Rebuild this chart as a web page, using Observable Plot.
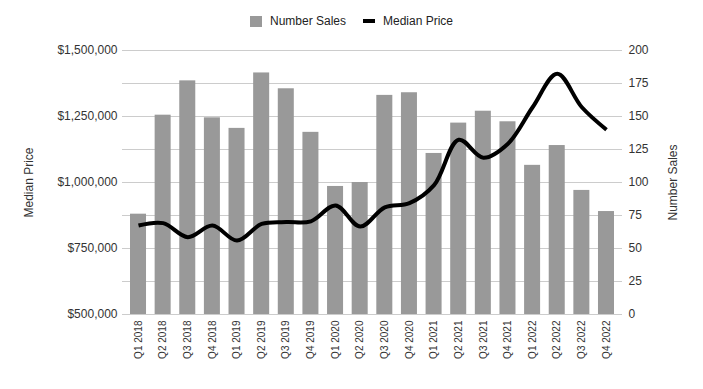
<!DOCTYPE html>
<html>
<head>
<meta charset="utf-8">
<script src="https://cdn.jsdelivr.net/npm/d3@7"></script>
<script src="https://cdn.jsdelivr.net/npm/@observablehq/plot@0.6"></script>
<style>
  body { margin: 0; background: #fff; font-family: "Liberation Sans", Arial, sans-serif; }
  #legend { height: 36px; display: flex; justify-content: center; align-items: center; padding-top: 6px; box-sizing: border-box; font-size: 12px; color: #222; }
  .item { display: flex; align-items: center; }
  .sw-bar { width: 12px; height: 11px; background: #999999; margin-right: 8px; }
  .sw-line { width: 12px; height: 4px; background: #000; margin-right: 8px; }
  .gap { width: 17px; }
</style>
</head>
<body>
<div id="legend">
  <div class="item"><span class="sw-bar"></span><span>Number Sales</span></div>
  <div class="gap"></div>
  <div class="item"><span class="sw-line"></span><span>Median Price</span></div>
</div>
<div id="chart"></div>
<script>
const quarters = ["Q1 2018","Q2 2018","Q3 2018","Q4 2018","Q1 2019","Q2 2019","Q3 2019","Q4 2019","Q1 2020","Q2 2020","Q3 2020","Q4 2020","Q1 2021","Q2 2021","Q3 2021","Q4 2021","Q1 2022","Q2 2022","Q3 2022","Q4 2022"];
const numberSales = [76,151,177,149,141,183,171,138,97,100,166,168,122,145,154,146,113,128,94,78];
const medianPrice = [837000,846000,793000,837000,780000,843000,850000,853000,913000,833000,906000,922000,990000,1162000,1094000,1147000,1285000,1412000,1285000,1200000];
const salesTicks = [0,25,50,75,100,125,150,175,200];
const priceTicks = [500000,750000,1000000,1250000,1500000];

// price axis [500k,1.5M] shares the sales scale [0,200]
const priceMin = 500000, priceMax = 1500000, salesMax = 200;
const toSales = p => (p - priceMin) / (priceMax - priceMin) * salesMax;
const toPrice = s => priceMin + s / salesMax * (priceMax - priceMin);

const data = quarters.map((q, i) => ({q, sales: numberSales[i], price: medianPrice[i]}));

const chart = Plot.plot({
  width: 703,
  height: 353,
  marginTop: 14,
  marginBottom: 75,
  marginLeft: 122,
  marginRight: 81,
  style: {fontFamily: '"Liberation Sans", Arial, sans-serif', fontSize: "12px", color: "#333"},
  x: {domain: quarters, paddingInner: 0.35, paddingOuter: 0.325, round: false},
  y: {domain: [0, salesMax]},
  marks: [
    Plot.ruleY(salesTicks, {stroke: "#cccccc", strokeWidth: 1}),
    Plot.barY(data, {x: "q", y: "sales", fill: "#999999"}),
    Plot.line(data, {x: "q", y: d => toSales(d.price), stroke: "#000", strokeWidth: 4, curve: "catmull-rom", strokeLinejoin: "round", strokeLinecap: "butt"}),
    Plot.axisX({tickRotate: -90, tickSize: 0, tickPadding: 6, fontSize: 10, label: null}),
    Plot.axisY(priceTicks.map(toSales), {anchor: "left", tickSize: 0, tickPadding: 5, tickFormat: s => "$" + d3.format(",")(Math.round(toPrice(s))), label: "Median Price", labelAnchor: "center", labelArrow: "none", labelOffset: 98}),
    Plot.axisY(salesTicks, {anchor: "right", tickSize: 0, tickPadding: 6, label: "Number Sales", labelAnchor: "center", labelArrow: "none", labelOffset: 54})
  ]
});
document.getElementById("chart").appendChild(chart);
</script>
</body>
</html>
